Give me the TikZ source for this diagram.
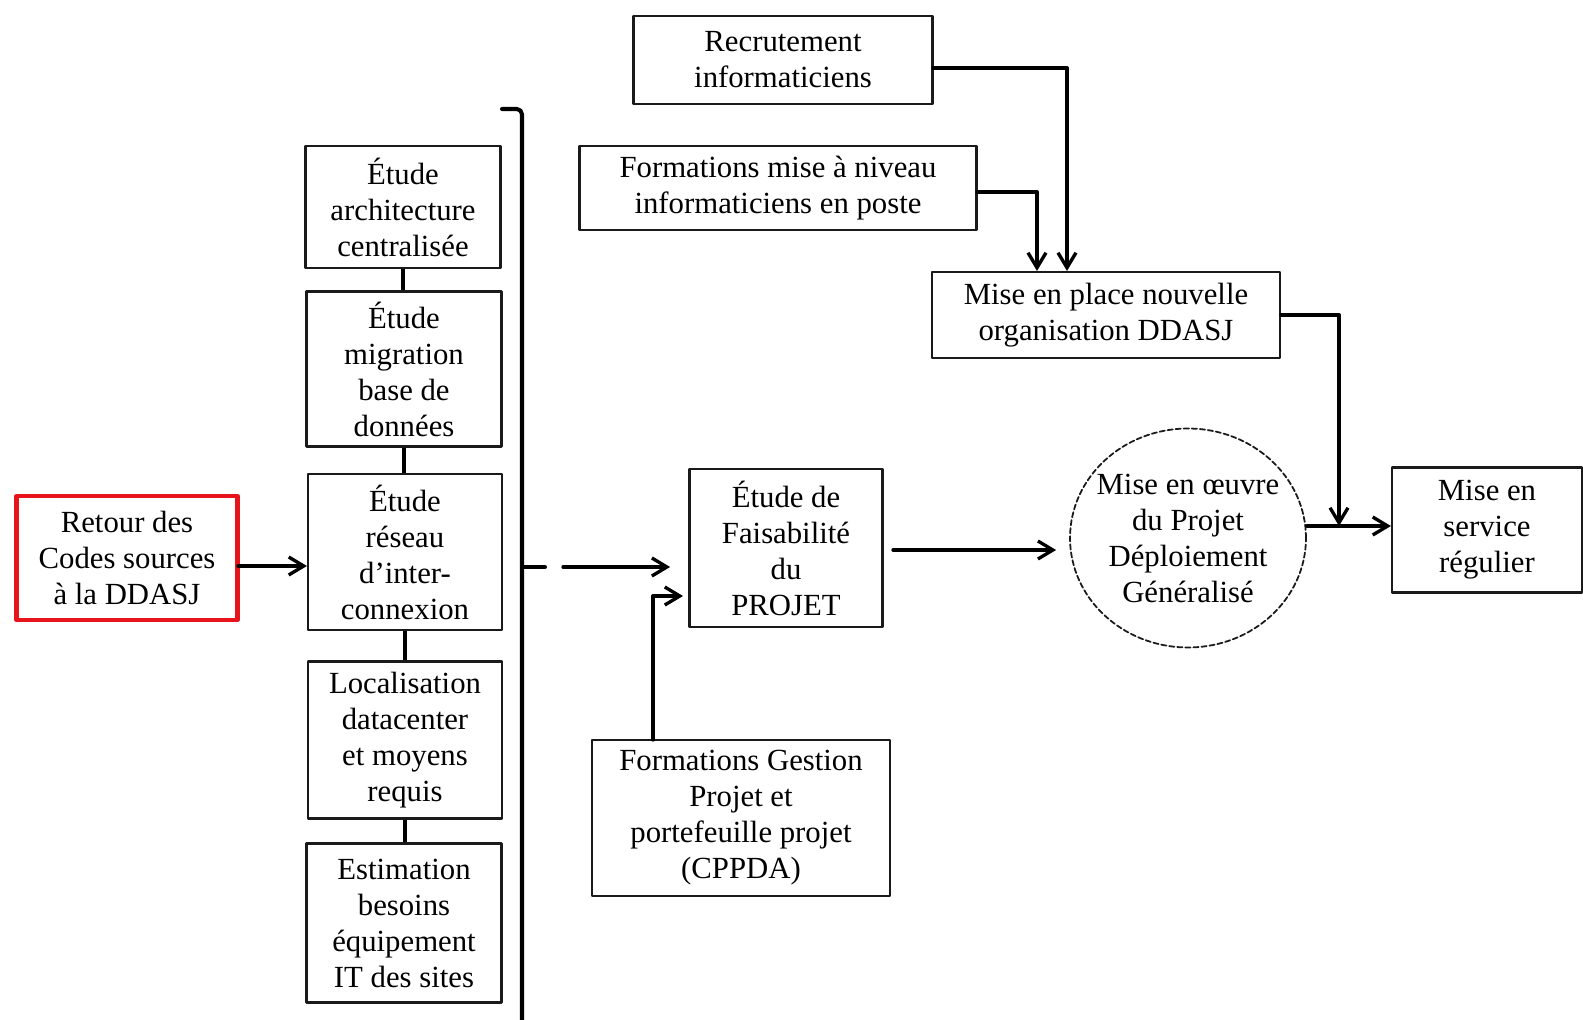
\documentclass[tikz,border=0pt]{standalone}
\usepackage{fontspec}
\setmainfont{Liberation Serif}
\usepackage{tikz}
\usetikzlibrary{arrows.meta,calc,shapes.geometric}
\definecolor{boxline}{HTML}{1A1A1A}
\definecolor{retourred}{HTML}{E8141B}
\tikzset{
every picture/.style={line cap=round,line join=round},
>={Straight Barb[length=3mm,width=3.6mm]},
plan box/.style={
  draw=boxline,
  line width=1.2pt,
  align=center,
  inner sep=3pt,
  fill=white,
  font=\fontsize{17.5}{20.5}\selectfont
},
start box/.style={plan box, draw=retourred, line width=2.4pt},
main box/.style={plan box, line width=1.6pt},
oeuvre node/.style={plan box, ellipse, dash pattern=on 3pt off 1.6pt, line width=1pt, inner xsep=-0.3cm, inner ysep=0pt},
fig flow/.style={draw=black, ->, line width=1.9pt},
fig link/.style={draw=black, line width=2.4pt, line cap=butt},
bracket line/.style={draw=black, line width=2.3pt, rounded corners=3pt}
}
\begin{document}
\begin{tikzpicture}[x=0.02cm,y=-0.02cm]
\useasboundingbox (0,0) rectangle (1583,1020);
\node[plan box, minimum width=5.98cm, minimum height=1.76cm] (recrut) at (783,60) {Recrutement\\informaticiens};
\node[plan box, minimum width=7.94cm, minimum height=1.68cm] (formniv) at (778,188) {Formations mise à niveau\\informaticiens en poste};
\node[plan box, minimum width=6.96cm, minimum height=1.72cm] (orga) at (1106,315) {Mise en place nouvelle\\organisation DDASJ};
\node[plan box, minimum width=3.9cm, minimum height=2.44cm] (archi) at (403,207) {Étude\\architecture\\centralisée};
\node[plan box, minimum width=3.9cm, minimum height=3.1cm] (migr) at (404,369) {Étude\\migration\\base de\\données};
\node[plan box, minimum width=3.88cm, minimum height=3.12cm] (reseau) at (405,552) {Étude\\réseau\\d’inter-\\connexion};
\node[plan box, minimum width=3.88cm, minimum height=3.14cm] (local) at (405,740) {Localisation\\datacenter\\et moyens\\requis};
\node[plan box, minimum width=3.9cm, minimum height=3.18cm] (estim) at (404,923) {Estimation\\besoins\\équipement\\IT des sites};
\node[start box, minimum width=4.42cm, minimum height=2.48cm] (retour) at (127,558) {Retour des\\Codes sources\\à la DDASJ};
\node[main box, minimum width=3.86cm, minimum height=3.16cm] (faisab) at (786,548) {Étude de\\Faisabilité\\du\\PROJET};
\node[plan box, minimum width=5.96cm, minimum height=3.12cm] (formgest) at (741,818) {Formations Gestion\\Projet et\\portefeuille projet\\(CPPDA)};
\node[oeuvre node, minimum width=4.72cm, minimum height=4.38cm] (oeuvre) at (1188,538) {Mise en œuvre\\du Projet\\Déploiement\\Généralisé};
\node[plan box, minimum width=3.8cm, minimum height=2.5cm] (service) at (1487,530) {Mise en\\service\\régulier};
\coordinate (brtop) at (502,109);
\coordinate (brmid) at (522,567);
\coordinate (brout) at (563,567);
\coordinate (merge) at (1339,526);
\coordinate (retourout) at (238,566);
\coordinate (gestup) at (653,740);
\coordinate (gestin) at (690,596);
\coordinate (faisabout) at (883,550);
\coordinate (recrutout) at (933,68);
\coordinate (formnivout) at (977,192);
\draw[bracket line] (brtop) -- (522,109) -- (522,1020);
\draw[bracket line] (brmid) -- ++(23,0);
\draw[fig link] (archi.south) -- (archi.south |- migr.north);
\draw[fig link] (migr.south) -- (migr.south |- reseau.north);
\draw[fig link] (reseau.south) -- (reseau.south |- local.north);
\draw[fig link] (local.south) -- (local.south |- estim.north);
\draw[fig flow] (retourout) -- (reseau.west |- retourout);
\draw[fig flow, shorten >=0.36cm] (brout) -- (faisab.west |- brout);
\draw[fig flow, shorten >=0.14cm] (gestup) |- (gestin);
\draw[fig flow, shorten <=0.2cm, shorten >=0.26cm] (faisabout) -- (oeuvre.west |- faisabout);
\draw[fig flow] (oeuvre.east |- merge) -- (service.west |- merge);
\draw[fig flow] (orga.east) -| (merge);
\draw[fig flow] (recrutout) -| (orga.north -| 1067,0);
\draw[fig flow] (formnivout) -| (orga.north -| 1037,0);
\end{tikzpicture}
\end{document}
